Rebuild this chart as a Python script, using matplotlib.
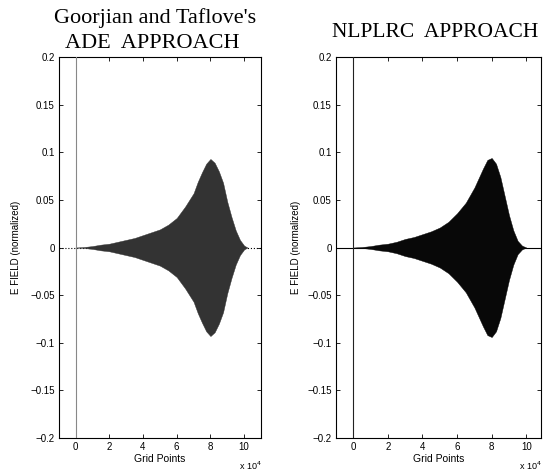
import matplotlib
matplotlib.use("Agg")
import matplotlib.pyplot as plt
import numpy as np

# Envelope of the E-field pulse (upper envelope, normalized), x in units of 1e4 grid points
x_left = [0, 0.5, 1, 1.5, 2, 2.5, 3, 3.5, 4, 4.5, 5, 5.5, 6, 6.5, 7, 7.25, 7.5, 7.75, 8,
          8.25, 8.5, 8.75, 9, 9.25, 9.5, 9.75, 10, 10.2]
amp_left = [0, 0.0005, 0.0015, 0.003, 0.004, 0.006, 0.008, 0.010, 0.013, 0.016, 0.019, 0.024,
            0.031, 0.043, 0.057, 0.069, 0.079, 0.088, 0.093, 0.089, 0.080, 0.068, 0.048,
            0.032, 0.018, 0.008, 0.002, 0]
x_right = [0, 0.5, 1, 1.5, 2, 2.5, 3, 3.5, 4, 4.5, 5, 5.5, 6, 6.5, 7, 7.25, 7.5, 7.75, 8,
           8.25, 8.5, 8.75, 9, 9.25, 9.5, 9.75, 10]
amp_right = [0, 0.0005, 0.0015, 0.003, 0.004, 0.006, 0.009, 0.011, 0.014, 0.017, 0.021, 0.027,
             0.036, 0.047, 0.063, 0.073, 0.083, 0.092, 0.094, 0.088, 0.074, 0.054, 0.034,
             0.018, 0.007, 0.002, 0]

title_lines_left = ["Goorjian and Taflove's", "ADE  APPROACH"]
title_right = "NLPLRC  APPROACH"
xticks = [0, 2, 4, 6, 8, 10]
yticks = [-0.2, -0.15, -0.1, -0.05, 0, 0.05, 0.1, 0.15, 0.2]
ytick_labels = ["\u22120.2", "\u22120.15", "\u22120.1", "\u22120.05", "0", "0.05", "0.1", "0.15", "0.2"]
xlabel = "Grid Points"
ylabel = "E FIELD (normalized)"

W, H = 543, 472
fig = plt.figure(figsize=(W / 100, H / 100), dpi=100)

def frac(l, r, t, b):
    return [l / W, 1 - b / H, (r - l) / W, (b - t) / H]

axes_px = [(58.7, 261, 57, 438), (336, 541, 57, 438)]
xlims = [(-1, 11), (-1, 10.85)]
fills = ["#333333", "#080808"]
data = [(x_left, amp_left), (x_right, amp_right)]
zero_styles = [":", "-"]
vline_colors = ["#888888", "#222222"]
ylab_x = [16, 296]

tick_font = dict(family="Liberation Sans", size=7)

for i in range(2):
    ax = fig.add_axes(frac(*axes_px[i]))
    xs, a = data[i]
    xs = np.array(xs); a = np.array(a)
    ax.axhline(0, color="black", lw=0.8, ls=zero_styles[i], zorder=1)
    ax.fill_between(xs, -a, a, color=fills[i], lw=0.3, edgecolor=fills[i], zorder=2)
    ax.axvline(0, color=vline_colors[i], lw=0.8, zorder=3)
    ax.set_xlim(*xlims[i])
    ax.set_ylim(-0.2, 0.2)
    ax.set_xticks(xticks)
    ax.set_xticklabels([str(t) for t in xticks], fontdict=tick_font)
    ax.set_yticks(yticks)
    ax.set_yticklabels(ytick_labels, fontdict=tick_font)
    ax.tick_params(direction="in", top=True, right=True, length=3, width=0.6, pad=3)
    for s in ax.spines.values():
        s.set_linewidth(0.8)
    ax.set_xlabel(xlabel, fontfamily="Liberation Sans", fontsize=7.5, labelpad=1)
    fig.text(ylab_x[i] / W, 1 - 247 / H, ylabel, rotation=90, ha="center", va="center",
             fontfamily="Liberation Sans", fontsize=7)
    fig.text((axes_px[i][1] + 1) / W, 1 - 466 / H, r"x 10$^4$", ha="right", va="center",
             fontfamily="Liberation Sans", fontsize=6.5)

# Titles
fig.text(155 / W, 1 - 23 / H, title_lines_left[0], ha="center", va="baseline",
         fontfamily="Liberation Serif", fontsize=16)
fig.text(152.5 / W, 1 - 48 / H, title_lines_left[1], ha="center", va="baseline",
         fontfamily="Liberation Serif", fontsize=16)
fig.text(435.5 / W, 1 - 37 / H, title_right, ha="center", va="baseline",
         fontfamily="Liberation Serif", fontsize=15.5)

fig.savefig("out.png", dpi=100)
